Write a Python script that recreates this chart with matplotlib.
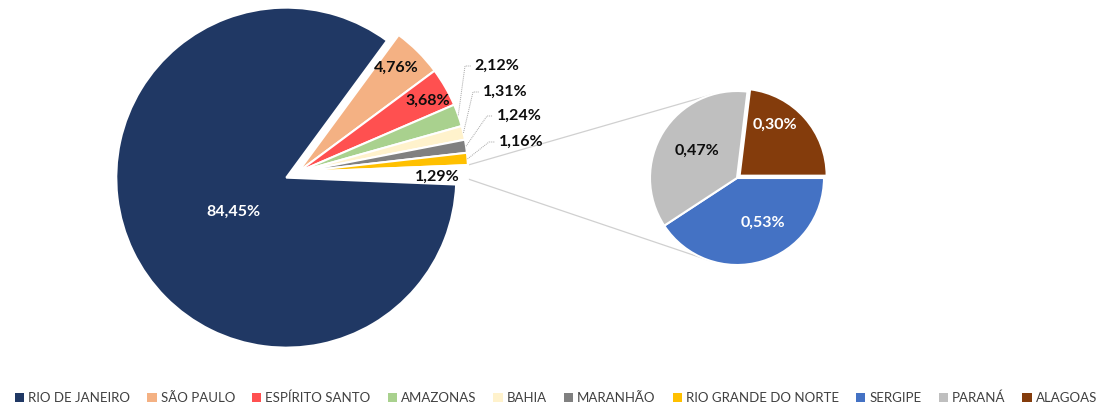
import numpy as np
import matplotlib
matplotlib.use("Agg")
import matplotlib.pyplot as plt
from matplotlib.patches import Patch

plt.rcParams['font.family'] = ['Lato', 'DejaVu Sans']

# main pie: states plus the grouped "other" share (1,29%)
main_states = ['RIO DE JANEIRO', 'SÃO PAULO', 'ESPÍRITO SANTO', 'AMAZONAS',
               'BAHIA', 'MARANHÃO', 'RIO GRANDE DO NORTE']
main_values = [84.45, 4.76, 3.68, 2.12, 1.31, 1.24, 1.16]
other_share = 1.29

# secondary pie: states grouped into the "other" slice
small_states = ['SERGIPE', 'PARANÁ', 'ALAGOAS']
small_values = [0.53, 0.47, 0.30]

main_colors = ['#203864', '#F4B183', '#FF5050', '#A9D18E', '#FFF2CC',
               '#808080', '#FFC000']
small_colors = ['#4472C4', '#BFBFBF', '#843C0C']

W, H = 1101, 407


def fmt(v):
    return f"{v:.2f}%".replace('.', ',')


fig = plt.figure(figsize=(W / 100, H / 100), dpi=100)
ax = fig.add_axes([0, 0, 1, 1])

# --- main pie (axes units are pixels, explode is in the same units) ---
vals = main_values + [other_share]
total = sum(vals)
start = -other_share / total * 180.0
main_c, main_r = (298, H - 172), 170
explode = [13] + [0] * (len(vals) - 1)
wedges, _ = ax.pie(vals, colors=main_colors + ['white'], startangle=start,
                   counterclock=False, center=main_c, radius=main_r,
                   explode=explode, frame=True,
                   wedgeprops=dict(edgecolor='white', linewidth=1.5))

lab_kw = dict(fontsize=11.5, fontweight='bold', ha='center', va='center')
# labels on or next to their slice (pixel positions from top)
inside_pos = {0: (233, 212, 'white'), 1: (396, 68, '#0D0D0D'),
              2: (428, 101, '#0D0D0D'), 7: (437, 177, '#0D0D0D')}
for i, (x, y, col) in inside_pos.items():
    ax.text(x, H - y, fmt(vals[i]), color=col, **lab_kw)

# outside labels with dotted leader lines
outside_pos = {3: (497, 66), 4: (505, 92), 5: (519, 116), 6: (521, 142)}
for i, (x, y) in outside_pos.items():
    w = wedges[i]
    mid = np.deg2rad((w.theta1 + w.theta2) / 2)
    ex = w.center[0] + w.r * np.cos(mid)
    ey = w.center[1] + w.r * np.sin(mid)
    lx = x - 26
    ax.plot([ex, lx - 6, lx], [ey, H - y, H - y], color='#A6A6A6',
            lw=0.7, ls=(0, (1, 1)))
    ax.text(x, H - y, fmt(vals[i]), color='#0D0D0D', **lab_kw)

# --- secondary pie ---
sec_c, sec_r = (737, H - 178), 87
sw, _ = ax.pie(small_values, colors=small_colors, startangle=0,
               counterclock=False, center=sec_c, radius=sec_r,
               explode=[0, 0, 3.5], frame=True,
               wedgeprops=dict(edgecolor='white', linewidth=1.5))

small_pos = [(763, 223, 'white'), (697, 151, '#0D0D0D'), (775, 125, 'white')]
for v, (x, y, col) in zip(small_values, small_pos):
    ax.text(x, H - y, fmt(v), color=col, **lab_kw)

# connector lines from the "other" slice to the secondary pie (tangents)
ow = wedges[-1]
for ang, side in ((ow.theta2, 1), (ow.theta1, -1)):
    a = np.deg2rad(ang)
    px = ow.center[0] + ow.r * np.cos(a)
    py = ow.center[1] + ow.r * np.sin(a)
    dx, dy = px - sec_c[0], py - sec_c[1]
    d = np.hypot(dx, dy)
    base = np.arctan2(dy, dx)
    t = base - side * np.arccos(sec_r / d)
    tx = sec_c[0] + sec_r * np.cos(t)
    ty = sec_c[1] + sec_r * np.sin(t)
    ax.plot([px, tx], [py, ty], color='#D0D0D0', lw=0.9, zorder=0)

ax.set_xlim(0, W)
ax.set_ylim(0, H)
ax.set_aspect('equal')
ax.axis('off')

# --- legend ---
handles = [Patch(facecolor=c, edgecolor='none')
           for c in main_colors + small_colors]
fig.legend(handles, main_states + small_states, loc='lower center',
           bbox_to_anchor=(0.505, -0.022), ncol=10, frameon=False,
           fontsize=9.5, handlelength=0.7, handleheight=0.7,
           handletextpad=0.3, columnspacing=1.3, labelcolor='#404040')

fig.savefig('out.png', dpi=100)
